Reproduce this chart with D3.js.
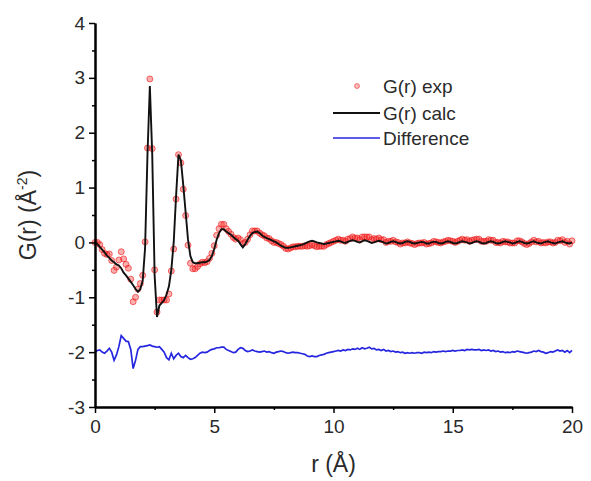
<!DOCTYPE html>
<meta charset="utf-8">
<head>
<style>
    body {margin: 0; background: #fff; font-family: "Liberation Sans", Arial, sans-serif;}
</style>
<script src="https://d3js.org/d3.v7.min.js"></script>
</head>
<body>
    <div id="gr-chart"></div>
<script>

// r grid (Angstrom), 0.1 step from 0 to 20
var rValues = d3.range(0, 201).map(function(i) { return +(i * 0.1).toFixed(1); });

// G(r) calc
var calcValues = [
 0.00,-0.03,-0.08,-0.13,-0.18,-0.24,-0.28,-0.33,-0.36,-0.40,
-0.42,-0.47,-0.55,-0.60,-0.66,-0.72,-0.78,-0.85,-0.90,-0.85,
-0.70,-0.10, 1.60, 2.85, 1.60,-0.60,-1.36,-1.15,-1.10,-1.05,
-0.95,-0.80,-0.50, 0.00, 0.85, 1.60, 1.50, 1.05, 0.55, 0.05,
-0.25,-0.36,-0.38,-0.38,-0.37,-0.36,-0.36,-0.35,-0.32,-0.25,
-0.12, 0.05, 0.17, 0.24, 0.24, 0.20, 0.17, 0.14, 0.10, 0.06,
 0.03,-0.03,-0.09,-0.03, 0.05, 0.12, 0.17, 0.19, 0.20, 0.17,
 0.13, 0.10, 0.08, 0.06, 0.04, 0.02, 0.00,-0.03,-0.06,-0.08,
-0.10,-0.10,-0.09,-0.08,-0.07,-0.06,-0.05,-0.04,-0.02, 0.00,
 0.02, 0.03, 0.02, 0.00,-0.01,-0.02,-0.03,-0.02,-0.01, 0.00,
 0.01, 0.02, 0.03, 0.02, 0.00,-0.01, 0.01, 0.03, 0.04, 0.03,
 0.01, 0.00, 0.02, 0.04, 0.03, 0.01,-0.01, 0.00, 0.02, 0.03,
 0.02, 0.00,-0.02,-0.01, 0.01, 0.02, 0.01,-0.01,-0.02,-0.01,
 0.01, 0.02, 0.01,-0.01,-0.02,-0.01, 0.00, 0.01, 0.00,-0.02,
-0.02, 0.00, 0.01, 0.01,-0.01,-0.02,-0.01, 0.01, 0.02, 0.01,
-0.01,-0.02,-0.01, 0.01, 0.02, 0.01, 0.00,-0.02,-0.01, 0.01,
 0.02, 0.01,-0.01,-0.02,-0.01, 0.01, 0.02, 0.01,-0.01,-0.02,
-0.01, 0.01, 0.02, 0.01, 0.00,-0.02,-0.01, 0.01, 0.02, 0.01,
-0.01,-0.02,-0.01, 0.01, 0.02, 0.00,-0.01,-0.02, 0.00, 0.01,
 0.02, 0.00,-0.01,-0.02, 0.00, 0.01, 0.02, 0.00,-0.01,-0.02,
 0.00
];

// G(r) exp points
var expValues = [
 0.00, 0.00,-0.04,-0.13,-0.20,-0.22,-0.21,-0.33,-0.51,-0.45,
-0.32,-0.17,-0.30,-0.40,-0.47,-0.67,-1.08,-1.00,-0.85,-0.75,
-0.60, 0.01, 1.72, 2.98, 1.71,-0.50,-1.27,-1.05,-1.05,-1.05,
-1.05,-0.94,-0.52,-0.12, 0.79, 1.60, 1.45, 0.97, 0.49,-0.05,
-0.38,-0.48,-0.48,-0.44,-0.39,-0.36,-0.37,-0.35,-0.29,-0.20,
-0.06, 0.13, 0.25, 0.33, 0.33, 0.25, 0.20, 0.15, 0.09, 0.06,
 0.08, 0.05,-0.02, 0.00, 0.06, 0.14, 0.21, 0.21, 0.21, 0.17,
 0.14, 0.12, 0.08, 0.07, 0.03, 0.00, 0.00,-0.02,-0.04,-0.07,
-0.11,-0.12,-0.10,-0.08,-0.08,-0.07,-0.07,-0.07,-0.06,-0.07,
-0.06,-0.04,-0.06,-0.08,-0.07,-0.07,-0.07,-0.04,-0.02, 0.00,
 0.02, 0.04, 0.06, 0.04, 0.04, 0.02, 0.06, 0.07, 0.10, 0.08,
 0.08, 0.05, 0.10, 0.10, 0.10, 0.10, 0.05, 0.07, 0.06, 0.08,
 0.05, 0.05, 0.00, 0.02, 0.02, 0.04, 0.01, 0.00,-0.03,-0.01,
-0.01, 0.01,-0.01,-0.02,-0.04,-0.02,-0.01,-0.01, 0.00,-0.03,
-0.02,-0.01, 0.02, 0.01, 0.00,-0.01, 0.01, 0.02, 0.04, 0.03,
 0.02, 0.00, 0.02, 0.04, 0.06, 0.04, 0.05, 0.02, 0.04, 0.05,
 0.06, 0.06, 0.02, 0.02, 0.02, 0.05, 0.04, 0.04, 0.00, 0.00,
-0.01, 0.02, 0.01, 0.01,-0.01,-0.01,-0.01, 0.03, 0.03, 0.01,
-0.02,-0.04,-0.02, 0.01, 0.04, 0.01, 0.02,-0.01, 0.00,-0.01,
 0.01, 0.01,-0.01, 0.00, 0.04, 0.03, 0.05, 0.00, 0.02,-0.03,
 0.03
];

// Difference curve (offset by -2)
var diffValues = [
-2.00,-1.97,-1.96,-2.00,-2.02,-1.98,-1.93,-2.00,-2.15,-2.05,
-1.90,-1.70,-1.75,-1.80,-1.81,-1.95,-2.30,-2.15,-1.95,-1.90,
-1.90,-1.89,-1.88,-1.87,-1.89,-1.90,-1.91,-1.90,-1.95,-2.00,
-2.10,-2.14,-2.02,-2.12,-2.06,-2.02,-2.08,-2.10,-2.06,-2.10,
-2.13,-2.12,-2.10,-2.06,-2.02,-2.00,-2.01,-2.00,-1.97,-1.95,
-1.94,-1.92,-1.92,-1.91,-1.91,-1.95,-1.97,-1.99,-2.01,-2.00,
-1.95,-1.92,-1.93,-1.97,-1.99,-1.98,-1.96,-1.98,-1.99,-2.00,
-1.99,-1.98,-2.00,-1.99,-2.01,-2.02,-2.00,-1.99,-1.98,-1.99,
-2.01,-2.02,-2.01,-2.00,-2.01,-2.01,-2.02,-2.03,-2.04,-2.07,
-2.08,-2.07,-2.08,-2.08,-2.06,-2.05,-2.04,-2.02,-2.01,-2.00,
-1.99,-1.98,-1.97,-1.98,-1.96,-1.97,-1.95,-1.96,-1.94,-1.95,
-1.93,-1.95,-1.92,-1.94,-1.93,-1.91,-1.94,-1.93,-1.96,-1.95,
-1.97,-1.95,-1.98,-1.97,-1.99,-1.98,-2.00,-1.99,-2.01,-2.00,
-2.02,-2.01,-2.02,-2.01,-2.02,-2.01,-2.01,-2.02,-2.00,-2.01,
-2.00,-2.01,-1.99,-2.00,-1.99,-1.99,-1.98,-1.99,-1.98,-1.98,
-1.97,-1.98,-1.97,-1.97,-1.96,-1.97,-1.95,-1.96,-1.95,-1.96,
-1.96,-1.95,-1.97,-1.96,-1.97,-1.96,-1.98,-1.97,-1.99,-1.98,
-2.00,-1.99,-2.01,-2.00,-2.01,-1.99,-2.00,-1.98,-1.99,-2.00,
-2.01,-2.02,-2.01,-2.00,-1.98,-1.99,-1.97,-1.99,-2.00,-2.02,
-2.01,-1.99,-2.00,-1.98,-1.96,-1.98,-1.97,-2.00,-1.97,-2.01,
-1.97
];

var xTicks = [0, 5, 10, 15, 20];
var yTicks = [-3, -2, -1, 0, 1, 2, 3, 4];
var legendLabels = ["G(r) exp", "G(r) calc", "Difference"];

var width = 591, height = 481;
var margin = {left: 95, top: 23, right: 19, bottom: 74};

var svg = d3.select("#gr-chart")
    .append("svg")
    .attr("width", width)
    .attr("height", height);

var x = d3.scaleLinear().domain([0, 20]).range([margin.left, width - margin.right]);
var y = d3.scaleLinear().domain([-3, 4]).range([height - margin.bottom, margin.top]);

var expColor = "#f01818";
var calcColor = "#111";
var diffColor = "#2626e0";
var textColor = "#2a2a2a";

// exp points
svg.append("g")
    .selectAll("circle")
    .data(rValues)
    .enter().append("circle")
    .attr("cx", function(d) { return x(d); })
    .attr("cy", function(d, i) { return y(expValues[i]); })
    .attr("r", 3)
    .style("fill", expColor)
    .style("fill-opacity", 0.35)
    .style("stroke", expColor)
    .style("stroke-opacity", 0.6)
    .style("stroke-width", 1);

var line = function(vals) {
    return d3.line()
        .x(function(d) { return x(d); })
        .y(function(d, i) { return y(vals[i]); })(rValues);
};

svg.append("path")
    .attr("d", line(calcValues))
    .style("fill", "none")
    .style("stroke", calcColor)
    .style("stroke-width", 1.9);

svg.append("path")
    .attr("d", line(diffValues))
    .style("fill", "none")
    .style("stroke", diffColor)
    .style("stroke-width", 1.7);

// axes
var plainFormat = function(d) { return String(d); };

var xAxis = svg.append("g")
    .attr("transform", "translate(0," + y(-3) + ")")
    .call(d3.axisBottom(x).tickValues(xTicks).tickFormat(plainFormat).tickSize(6).tickSizeOuter(0));
svg.append("g")
    .attr("transform", "translate(0," + y(-3) + ")")
    .call(d3.axisBottom(x).tickValues([2.5, 7.5, 12.5, 17.5]).tickFormat("").tickSize(3).tickSizeOuter(0));

var yAxis = svg.append("g")
    .attr("transform", "translate(" + x(0) + ",0)")
    .call(d3.axisLeft(y).tickValues(yTicks).tickFormat(plainFormat).tickSize(6).tickSizeOuter(0));
svg.append("g")
    .attr("transform", "translate(" + x(0) + ",0)")
    .call(d3.axisLeft(y).tickValues([-2.5, -1.5, -0.5, 0.5, 1.5, 2.5, 3.5]).tickFormat("").tickSize(3).tickSizeOuter(0));

svg.selectAll(".domain").style("stroke", "#000").style("stroke-width", 2);
svg.selectAll(".tick line").style("stroke", "#000").style("stroke-width", 1.5);
svg.selectAll(".tick text")
    .style("font-family", "Liberation Sans, Arial, sans-serif")
    .style("font-size", "19px")
    .style("fill", textColor);
xAxis.selectAll(".tick text").attr("y", 9).attr("dy", "0.9em");
yAxis.selectAll(".tick text").attr("x", -10);

// axis titles
svg.append("text")
    .attr("x", x(10))
    .attr("y", 472)
    .style("text-anchor", "middle")
    .style("font-size", "23px")
    .style("fill", textColor)
    .text("r (Å)");

var yt = svg.append("text")
    .attr("transform", "translate(36," + y(0.5) + ") rotate(-90)")
    .style("text-anchor", "middle")
    .style("font-size", "23px")
    .style("fill", textColor);
yt.append("tspan").text("G(r) (Å");
yt.append("tspan").attr("dy", -9).style("font-size", "14px").text("-2");
yt.append("tspan").attr("dy", 9).text(")");

// legend
var legend = svg.append("g").attr("transform", "translate(333,86)");
legend.append("circle")
    .attr("cx", 24).attr("cy", 0).attr("r", 2.5)
    .style("fill", expColor).style("fill-opacity", 0.3)
    .style("stroke", expColor).style("stroke-opacity", 0.5);
legend.append("line")
    .attr("x1", 0).attr("x2", 47).attr("y1", 27).attr("y2", 27)
    .style("stroke", calcColor).style("stroke-width", 1.9);
legend.append("line")
    .attr("x1", 0).attr("x2", 47).attr("y1", 52).attr("y2", 52)
    .style("stroke", diffColor).style("stroke-width", 1.7);
legend.selectAll("text")
    .data(legendLabels)
    .enter().append("text")
    .attr("x", 50)
    .attr("y", function(d, i) { return [0, 27, 52][i]; })
    .attr("dy", "0.35em")
    .style("font-size", "19px")
    .style("fill", textColor)
    .text(function(d) { return d; });

</script>
</body>
